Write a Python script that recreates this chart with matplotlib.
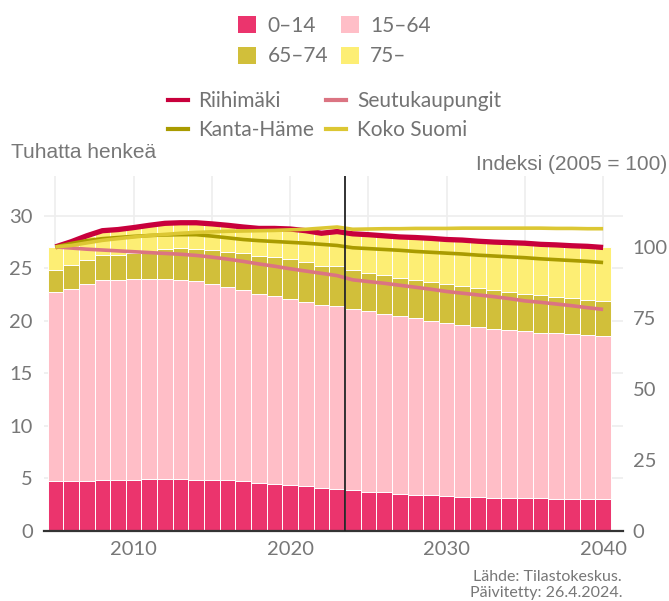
"""
Riihimäki: väestö ikäryhmittäin (pylväät) ja väkiluvun indeksi (viivat).
"""


# %%
import matplotlib
matplotlib.use('Agg')
import matplotlib.pyplot as plt
from matplotlib.patches import Patch
from matplotlib.lines import Line2D
import numpy as np


# %% data (tuhatta henkeä / indeksi 2005 = 100)
years = list(range(2005, 2041))

age_0_14 = [4.76, 4.76, 4.76, 4.86, 4.86, 4.86, 4.95, 4.95, 4.95, 4.86,
            4.86, 4.86, 4.76, 4.57, 4.48, 4.38, 4.29, 4.10, 4.00, 3.90,
            3.71, 3.71, 3.52, 3.43, 3.43, 3.33, 3.24, 3.24, 3.14, 3.14,
            3.14, 3.14, 3.05, 3.05, 3.05, 3.05]
age_15_64 = [18.00, 18.29, 18.76, 19.04, 19.04, 19.14, 19.05, 19.05, 18.95, 18.94,
             18.66, 18.38, 18.19, 18.00, 17.90, 17.72, 17.51, 17.42, 17.43, 17.24,
             17.24, 16.96, 16.96, 16.86, 16.57, 16.47, 16.36, 16.19, 16.10, 16.00,
             15.91, 15.72, 15.81, 15.71, 15.62, 15.52]
age_65_74 = [2.10, 2.28, 2.29, 2.39, 2.39, 2.45, 2.60, 2.86, 3.08, 3.06,
             3.24, 3.36, 3.55, 3.63, 3.72, 3.80, 3.80, 3.68, 3.77, 3.72,
             3.62, 3.71, 3.62, 3.61, 3.71, 3.72, 3.73, 3.71, 3.71, 3.62,
             3.52, 3.62, 3.43, 3.43, 3.33, 3.33]
age_75 = [2.19, 2.22, 2.29, 2.31, 2.41, 2.45, 2.50, 2.44, 2.37, 2.49,
          2.49, 2.50, 2.45, 2.60, 2.70, 2.85, 3.00, 3.15, 3.30, 3.44,
          3.63, 3.72, 3.90, 4.05, 4.14, 4.23, 4.37, 4.46, 4.55, 4.69,
          4.83, 4.82, 4.96, 4.96, 5.10, 5.10]

riihimaki = [100.0, 101.8, 103.9, 105.7, 106.1, 106.8, 107.6, 108.3, 108.5, 108.5,
             108.1, 107.6, 107.0, 106.5, 106.5, 106.3, 105.7, 104.8, 105.4, 104.6,
             104.3, 103.9, 103.5, 103.3, 103.0, 102.6, 102.4, 102.0, 101.7, 101.5,
             101.3, 100.9, 100.7, 100.4, 100.2, 99.8]
seutukaupungit = [100.0, 99.6, 99.2, 98.9, 98.6, 98.3, 98.0, 97.7, 97.4, 97.0,
                  96.4, 95.7, 94.9, 94.0, 93.2, 92.3, 91.5, 90.7, 89.9, 88.4,
                  87.8, 87.2, 86.5, 85.8, 85.1, 84.3, 83.7, 83.1, 82.5, 81.8,
                  81.0, 80.5, 79.9, 79.3, 78.6, 78.0]
kanta_hame = [100.0, 101.2, 102.2, 102.9, 103.3, 103.7, 104.0, 104.2, 104.3, 104.3,
              103.8, 103.2, 102.6, 102.2, 101.9, 101.6, 101.3, 100.9, 100.5, 99.7,
              99.4, 99.1, 98.8, 98.4, 98.1, 97.8, 97.5, 97.1, 96.8, 96.5,
              96.2, 95.8, 95.5, 95.2, 94.9, 94.5]
koko_suomi = [100.0, 100.5, 101.4, 102.3, 102.9, 103.5, 104.0, 104.4, 104.8, 105.1,
              105.3, 105.5, 105.6, 105.7, 105.8, 106.0, 106.2, 106.6, 107.0, 106.2,
              106.3, 106.4, 106.4, 106.5, 106.5, 106.5, 106.6, 106.6, 106.6, 106.6,
              106.6, 106.6, 106.5, 106.5, 106.4, 106.4]

bar_labels = ['0–14', '15–64', '65–74', '75–']
line_labels = ['Riihimäki', 'Seutukaupungit', 'Kanta-Häme', 'Koko Suomi']
forecast_start = 2023.5


# %% styles
bar_colors = ['#eb346d', '#ffbec7', '#d1bf3a', '#fdee74']
line_colors = ['#c8003c', '#db7482', '#a99b00', '#dcc733']
line_widths = [3.8, 2.6, 2.6, 2.6]
grey = '#777777'
tick_font = 'Lato'
title_font = 'Liberation Sans'


# %% figure
W, H = 669, 601
fig = plt.figure(figsize=(W / 100, H / 100), dpi=100)
ax = fig.add_axes([44 / W, 70 / H, 579 / W, 355 / H])
ax2 = ax.twinx()

# stacked bars
groups = [age_0_14, age_15_64, age_65_74, age_75]
bottom = np.zeros(len(years))
for vals, col in zip(groups, bar_colors):
    ax.bar(years, vals, width=1.0, bottom=bottom, color=col,
           edgecolor='white', linewidth=0.7, zorder=2)
    bottom += np.array(vals)

# index lines
for vals, col, lw in zip([riihimaki, seutukaupungit, kanta_hame, koko_suomi],
                         line_colors, line_widths):
    ax2.plot(years, vals, color=col, lw=lw, solid_capstyle='butt', zorder=3)

ax2.axvline(forecast_start, color='#222222', lw=1.3, zorder=5)

# axes
ymax = 33.8
ax.set_xlim(2004.27, 2041.27)
ax.set_ylim(0, ymax)
ax2.set_ylim(0, ymax * 100 / 27.05)

ax.set_yticks(range(0, 31, 5))
ax.set_xticks(range(2005, 2041, 5))
ax.set_xticklabels(['' if y % 10 else str(y) for y in range(2005, 2041, 5)])
ax2.set_yticks([0, 25, 50, 75, 100])

ax.set_axisbelow(True)
ax.grid(color='#eeeeee', lw=1.2)

for a in (ax, ax2):
    for s in a.spines.values():
        s.set_visible(False)
ax.spines['bottom'].set_visible(True)
ax.spines['bottom'].set_color('#333333')
ax.spines['bottom'].set_linewidth(1.6)
ax.spines['bottom'].set_zorder(6)

ax.tick_params(axis='y', length=0, pad=8, labelsize=14.5, labelcolor=grey)
ax.tick_params(axis='x', length=0, pad=7, labelsize=14.5, labelcolor=grey)
ax2.tick_params(axis='y', length=0, pad=7, labelsize=14.5, labelcolor=grey)
for lab in ax.get_xticklabels() + ax.get_yticklabels() + ax2.get_yticklabels():
    lab.set_family(tick_font)

# axis titles
fig.text(11 / W, 1 - 153 / H, 'Tuhatta henkeä', ha='left', va='center',
         fontsize=15, color=grey, family=title_font)
fig.text(667 / W, 1 - 164 / H, 'Indeksi (2005 = 100)', ha='right', va='center',
         fontsize=15, color=grey, family=title_font)

# legends
bar_handles = [Patch(facecolor=c, edgecolor='none') for c in bar_colors]
order = [0, 2, 1, 3]
leg1 = fig.legend([bar_handles[i] for i in order], [bar_labels[i] for i in order],
                  loc='center', bbox_to_anchor=(0.5, 1 - 41 / H), ncol=2,
                  frameon=False, prop={'family': tick_font, 'size': 15},
                  handlelength=0.87, handleheight=0.87, handletextpad=0.55,
                  columnspacing=0.6, labelspacing=0.52, labelcolor='#737373')

line_handles = [Line2D([], [], color=c, lw=3) for c in line_colors]
order = [0, 2, 1, 3]
leg2 = fig.legend([line_handles[i] for i in order], [line_labels[i] for i in order],
                  loc='center', bbox_to_anchor=(0.5, 1 - 115.7 / H), ncol=2,
                  frameon=False, prop={'family': tick_font, 'size': 15},
                  handlelength=0.96, handletextpad=0.5,
                  columnspacing=0.58, labelspacing=0.41, labelcolor='#737373')

# source
fig.text(622 / W, 1 - 577 / H, 'Lähde: Tilastokeskus.', ha='right', va='center',
         fontsize=11.5, color=grey, family=tick_font)
fig.text(622 / W, 1 - 593 / H, 'Päivitetty: 26.4.2024.', ha='right', va='center',
         fontsize=11.5, color=grey, family=tick_font)

fig.savefig('out.png', dpi=100)
